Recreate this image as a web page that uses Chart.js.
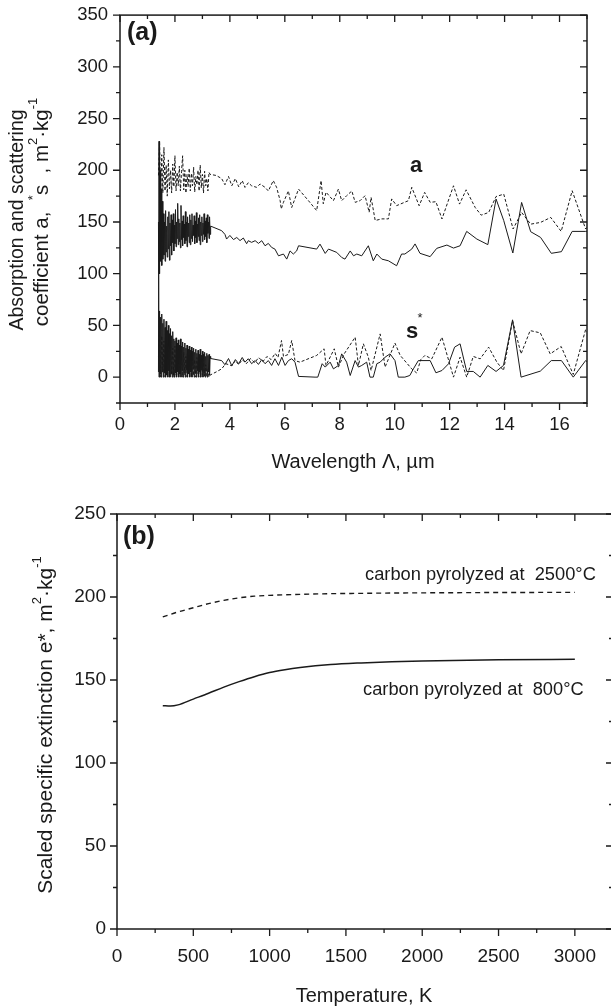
<!DOCTYPE html>
<html>
<head>
<meta charset="utf-8">
<script src="https://cdn.jsdelivr.net/npm/chart.js@4.4.1/dist/chart.umd.min.js"></script>
<style>
html, body { margin: 0; padding: 0; background: #fff; overflow: hidden; width: 611px; height: 1007px; }
#wrapA { position: absolute; left: 0; top: 0; width: 611px; height: 480px; }
#wrapB { position: absolute; left: 0; top: 480px; width: 630px; height: 527px; }
</style>
</head>
<body>
<div id="wrapA"><canvas id="chartA"></canvas></div>
<div id="wrapB"><canvas id="chartB"></canvas></div>
<script>
// ---- panel (a): wavelength, um ----
const lamDense = [1.40,1.42,1.44,1.46,1.48,1.50,1.52,1.54,1.56,1.58,1.60,1.62,1.64,1.66,1.68,1.70,
  1.72,1.74,1.76,1.78,1.80,1.82,1.84,1.86,1.88,1.90,1.92,1.94,1.96,1.98,2.00,2.02,
  2.04,2.06,2.08,2.10,2.12,2.14,2.16,2.18,2.20,2.22,2.24,2.26,2.28,2.30,2.32,2.34,
  2.36,2.38,2.40,2.42,2.44,2.46,2.48,2.50,2.52,2.54,2.56,2.58,2.60,2.62,2.64,2.66,
  2.68,2.70,2.72,2.74,2.76,2.78,2.80,2.82,2.84,2.86,2.88,2.90,2.92,2.94,2.96,2.98,
  3.00,3.02,3.04,3.06,3.08,3.10,3.12,3.14,3.16,3.18,3.20,3.22,3.24,3.26,3.28,3.30];
// the dashed curves are sampled at every second wavelength of the dense part
const lamDenseDash = lamDense.filter((v, i) => i % 2 === 0);

// absorption a (dashed / solid), noisy short-wave part
const aDashDense = [195,228,172,215,178,222,180,205,175,210,182,200,178,206,184,214,
  180,198,185,204,180,199,214,181,200,178,196,184,202,180,197,185,
  203,179,194,186,200,180,205,183,196,178,199,185,192,180,198,196];
const aSolidDense = [5,228,100,200,112,182,108,170,114,158,118,150,112,161,121,146,
  116,155,124,160,113,149,127,157,118,152,130,158,122,147,129,162,
  126,150,134,168,128,153,131,149,125,166,133,151,127,156,135,148,
  129,160,132,150,126,155,136,149,130,157,128,152,134,158,131,147,
  137,156,129,151,135,159,130,148,136,154,132,157,128,150,137,155,
  131,149,138,158,133,151,136,154,130,157,139,150,134,155,138,146];
// scattering s* (dashed / solid), noisy short-wave part
const sDashDense = [20,45,0,40,5,35,0,42,3,30,0,34,4,28,0,30,
  2,25,0,27,3,22,0,24,2,20,0,22,3,18,0,20,
  2,17,0,19,3,15,0,16,2,14,0,12,1,8,0,2];
const sSolidDense = [150,0,64,3,58,0,61,5,52,0,56,4,48,0,54,2,
  45,0,50,6,42,0,47,3,40,0,44,2,37,0,35,4,
  38,0,33,5,36,0,31,3,37,0,30,6,34,0,29,4,
  33,0,28,7,31,0,27,3,30,0,26,5,29,0,25,8,
  28,0,24,4,27,0,23,6,26,0,22,5,27,0,21,7,
  25,0,22,4,24,0,20,6,23,0,21,5,22,2,20,18];

const lamADashTail = [3.50,3.70,3.82,3.95,4.07,4.20,4.32,4.45,4.55,4.67,
  4.79,4.97,5.10,5.28,5.40,5.58,5.70,5.83,5.87,5.95,
  6.13,6.25,6.50,6.86,7.16,7.32,7.40,7.50,7.77,7.95,
  8.07,8.25,8.44,8.56,8.74,8.92,9.07,9.14,9.29,9.53,
  9.77,9.89,10.07,10.50,10.62,10.89,11.09,11.29,11.50,11.72,
  12.14,12.36,12.60,12.93,13.15,13.42,13.69,13.97,14.31,14.62,
  14.95,15.31,15.68,16.06,16.46,16.95,17.00];
const aDashTail = [195,192,186,194,185,192,184,190,183.4,188,
  185,183.5,186.7,183.5,180,190,183.5,170.6,162.6,169,
  180,164,181.8,170.6,161,190,167.6,178.8,170.6,181.8,
  170.6,175.4,180,169,170.6,175.4,159.4,173.8,151.4,153,
  153,172.3,165.8,170.6,183.5,165.7,178.6,169,169.6,152.9,
  185,167.3,181.1,164,156.6,159.2,174.6,176.9,143.2,159.2,
  147.9,149.6,154.4,140.9,180.2,143.2,145];

const lamASolidTail = [3.70,3.82,3.88,4.00,4.13,4.25,4.37,4.49,4.61,4.67,
  4.79,4.92,5.04,5.16,5.28,5.40,5.52,5.64,5.77,5.95,
  6.07,6.19,6.31,6.43,6.50,7.16,7.28,7.47,7.59,7.89,
  8.07,8.19,8.38,8.50,8.62,8.80,9.04,9.22,9.35,9.53,
  9.77,10.07,10.25,10.37,10.62,10.74,10.92,11.29,11.53,11.90,
  12.14,12.38,12.62,12.99,13.39,13.69,13.97,14.30,14.62,14.95,
  15.31,15.70,16.07,16.46,16.95,17.00];
const aSolidTail = [141.6,138,133.5,137,133,135,132,134.5,129,131.9,
  130.3,131.9,129.3,131.9,127,129.3,125.4,123.8,117.3,119,
  114.1,122,119,122,127,123.8,128.6,119.6,123.8,120.6,
  115.7,114.1,122,117.3,119,117.3,127,112.5,119,114.1,
  112.5,107.7,119,119,123.8,128.8,119.7,116.5,124.5,127.7,
  124.8,127,140.9,133.5,128.1,172.2,151.3,120,168.9,140.6,
  135.1,119.7,121.3,140.9,140.9,141];

const lamSDashTail = [3.50,3.70,3.85,4.07,4.20,4.32,4.45,4.60,4.75,4.90,
  5.05,5.20,5.35,5.50,5.65,5.75,5.88,5.95,6.13,6.25,
  6.37,6.55,7.16,7.43,7.50,7.80,7.95,8.16,8.56,8.68,
  8.86,9.04,9.14,9.47,9.65,10.01,10.20,10.62,10.80,10.95,
  11.10,11.35,11.72,12.14,12.38,12.62,12.86,13.11,13.42,13.72,
  13.96,14.29,14.60,14.93,15.30,15.66,16.06,16.50,16.95,17.00];
const sDashTail = [5,8,13,11,16,12,17,13,18,14,
  19,15,20,17,23,19,35.4,20,22,35.4,
  16,14.5,21,27.4,11.3,27.4,9.7,22.5,38.6,11.3,
  32.2,19.3,6.4,41.8,9.7,32.9,21,8,4,17,
  21,17.7,38.6,0,19.3,0,20,17.7,29,14.5,
  6.4,54.7,22.5,45,42.8,22.5,29.6,2.6,46,44];

const lamSSolidTail = [3.70,3.82,3.95,4.07,4.20,4.32,4.45,4.55,4.67,4.79,
  4.92,5.04,5.16,5.28,5.40,5.52,5.64,5.77,5.89,6.01,
  6.13,6.25,6.37,6.50,7.10,7.20,7.36,7.47,7.65,7.77,
  7.95,8.07,8.25,8.38,8.56,8.68,8.80,8.98,9.10,9.22,
  9.35,9.47,9.65,9.83,10.01,10.13,10.37,10.55,10.68,10.86,
  11.29,11.50,11.72,11.96,12.18,12.38,12.62,12.86,13.11,13.39,
  13.69,13.96,14.29,14.60,15.30,15.70,16.07,16.50,16.95,17.00];
const sSolidTail = [16,12,18,11,17,13,19,14.5,17.8,13,
  16,12.3,16.9,13,16,11.3,17.8,11.3,19.3,11.3,
  16,17.8,14.5,0.7,0,0,13,9.7,14.5,8,
  11.3,22.5,14.5,1.6,16,9.7,11.3,14.5,0,0,
  13,14.5,19.3,22.5,16,0,0,1.6,8,16,
  16,4.2,6.4,12.9,29,32.2,5.5,5.5,0,11.3,
  5.5,11.3,55.4,0,5.8,16,16,0,16,15];

// ---- panel (b): scaled specific extinction vs temperature ----
const temp800 = [300,350,400,500,600,700,800,900,1000,1100,1200,1400,1600,1800,2000,2500,3000];
const ext800 = [134.5,134.3,135,138.5,142,145.7,149,152,154.5,156.2,157.5,159.3,160.3,161,161.5,162.2,162.5];
const temp2500 = [300,400,500,600,700,800,900,1000,1200,1400,1600,1800,2000,2500,3000];
const ext2500 = [188,191,193.5,196,198,199.5,200.5,201,201.6,202,202.2,202.4,202.5,202.7,202.8];

const FONT = '"Liberation Sans", Arial, sans-serif';
const INK = '#1a1a1a';
Chart.defaults.font.family = FONT;
Chart.defaults.color = INK;

function pts(xs, ys) {
  return xs.map((x, i) => ({x: x, y: ys[i]}));
}

function line(xs, ys, dashed, width) {
  return {
    data: pts(xs, ys),
    borderColor: INK,
    borderWidth: width,
    borderDash: dashed ? dashed : [],
    pointRadius: 0,
    fill: false
  };
}

// text with superscripts, optionally rotated
function richText(ctx, parts, cx, cy, rot, size) {
  const supSize = Math.round(size * 0.62);
  let w = 0;
  parts.forEach(p => {
    ctx.font = (p[1] ? supSize : size) + 'px ' + FONT;
    w += ctx.measureText(p[0]).width;
  });
  ctx.save();
  ctx.translate(cx, cy);
  ctx.rotate(rot);
  ctx.fillStyle = INK;
  ctx.textBaseline = 'middle';
  ctx.textAlign = 'left';
  let x = -w / 2;
  parts.forEach(p => {
    ctx.font = (p[1] ? supSize : size) + 'px ' + FONT;
    ctx.fillText(p[0], x, p[1] ? -size * 0.42 : 0);
    x += ctx.measureText(p[0]).width;
  });
  ctx.restore();
}

function txt(ctx, s, x, y, font, align) {
  ctx.save();
  ctx.font = font;
  ctx.fillStyle = INK;
  ctx.textAlign = align || 'left';
  ctx.textBaseline = 'middle';
  ctx.fillText(s, x, y);
  ctx.restore();
}

// frame with ticks on all four sides (outer on left/bottom, inner on top/right)
const frameTicks = {
  id: 'frameTicks',
  afterDraw(chart, args, o) {
    const ctx = chart.ctx;
    const a = chart.chartArea;
    const xs = chart.scales.x, ys = chart.scales.y;
    ctx.save();
    ctx.strokeStyle = INK;
    ctx.lineWidth = 1.5;
    ctx.strokeRect(a.left, a.top, a.right - a.left, a.bottom - a.top);
    ctx.lineWidth = 1.3;
    ctx.beginPath();
    for (let v = xs.min; v <= xs.max + 1e-9; v += o.xMinor) {
      const px = xs.getPixelForValue(v);
      const len = Math.abs(v % o.xMajor) < 1e-9 ? 7 : 4;
      ctx.moveTo(px, a.bottom); ctx.lineTo(px, a.bottom + len);
      ctx.moveTo(px, a.top); ctx.lineTo(px, a.top + len);
    }
    for (let v = ys.min; v <= ys.max + 1e-9; v += o.yMinor) {
      const py = ys.getPixelForValue(v);
      const len = Math.abs(v % o.yMajor) < 1e-9 ? 7 : 4;
      ctx.moveTo(a.left, py); ctx.lineTo(a.left - len, py);
      ctx.moveTo(a.right, py); ctx.lineTo(a.right - len, py);
    }
    ctx.stroke();
    ctx.restore();
  }
};

const notesA = {
  id: 'notesA',
  afterDraw(chart) {
    const ctx = chart.ctx;
    txt(ctx, '(a)', 127, 33, 'bold 25px ' + FONT);
    txt(ctx, 'a', 416, 166, 'bold 22px ' + FONT, 'center');
    txt(ctx, 's', 412, 332, 'bold 22px ' + FONT, 'center');
    txt(ctx, '*', 420, 318, '13px ' + FONT, 'center');
    richText(ctx, [['Absorption and scattering', 0]], 18, 220, -Math.PI / 2, 19.5);
    richText(ctx, [['coefficient a,  ', 0], ['*', 1], ['s  , m', 0], ['2', 1], ['\u00b7kg', 0], ['-1', 1]],
      42, 212, -Math.PI / 2, 20.5);
    richText(ctx, [['Wavelength \u039b, \u00b5m', 0]], 353, 462, 0, 20);
  }
};

const notesB = {
  id: 'notesB',
  afterDraw(chart) {
    const ctx = chart.ctx;
    txt(ctx, '(b)', 123, 57, 'bold 25px ' + FONT);
    txt(ctx, 'carbon pyrolyzed at  2500\u00b0C', 365, 95, '18.3px ' + FONT);
    txt(ctx, 'carbon pyrolyzed at  800\u00b0C', 363, 210, '18.3px ' + FONT);
    richText(ctx, [['Scaled specific extinction e*, m', 0], ['2', 1], ['\u00b7kg', 0], ['-1', 1]],
      46, 245, -Math.PI / 2, 21);
    richText(ctx, [['Temperature, K', 0]], 364, 516, 0, 20);
  }
};

new Chart(document.getElementById('chartA'), {
  type: 'line',
  data: {
    datasets: [
      line(lamDenseDash.concat(lamADashTail), aDashDense.concat(aDashTail), [3, 2], 1),
      line(lamDense.concat(lamASolidTail), aSolidDense.concat(aSolidTail), null, 1),
      line(lamDenseDash.concat(lamSDashTail), sDashDense.concat(sDashTail), [3, 2], 1),
      line(lamDense.concat(lamSSolidTail), sSolidDense.concat(sSolidTail), null, 1)
    ]
  },
  options: {
    animation: false,
    responsive: true,
    maintainAspectRatio: false,
    layout: {padding: {top: 14, right: 24, left: 0, bottom: 0}},
    plugins: {legend: {display: false}, tooltip: {enabled: false}, frameTicks: {xMinor: 1, xMajor: 2, yMinor: 25, yMajor: 50}},
    elements: {line: {tension: 0}},
    scales: {
      x: {
        type: 'linear', min: 0, max: 17,
        grid: {display: false}, border: {display: false},
        ticks: {stepSize: 1, autoSkip: false, maxRotation: 0, padding: 3, font: {size: 18.5},
          callback: v => (v % 2 === 0 ? v : '')},
        afterFit: s => { s.height = 77; }
      },
      y: {
        min: -25, max: 350,
        grid: {display: false}, border: {display: false},
        ticks: {stepSize: 25, autoSkip: false, padding: 4, font: {size: 18.5},
          callback: v => (v >= 0 && v % 50 === 0 ? v : '')},
        afterFit: s => { s.width = 120; }
      }
    }
  },
  plugins: [frameTicks, notesA]
});

new Chart(document.getElementById('chartB'), {
  type: 'line',
  data: {
    datasets: [
      line(temp2500, ext2500, [5, 4], 1.4),
      line(temp800, ext800, null, 1.5)
    ]
  },
  options: {
    animation: false,
    responsive: true,
    maintainAspectRatio: false,
    layout: {padding: {top: 34, right: 17, left: 0, bottom: 0}},
    plugins: {legend: {display: false}, tooltip: {enabled: false}, frameTicks: {xMinor: 250, xMajor: 500, yMinor: 25, yMajor: 50}},
    elements: {line: {tension: 0.4, cubicInterpolationMode: 'monotone'}},
    scales: {
      x: {
        type: 'linear', min: 0, max: 3250,
        grid: {display: false}, border: {display: false},
        ticks: {stepSize: 250, autoSkip: false, maxRotation: 0, padding: 8, font: {size: 19},
          callback: v => (v % 500 === 0 ? v : '')},
        afterFit: s => { s.height = 78; }
      },
      y: {
        min: 0, max: 250,
        grid: {display: false}, border: {display: false},
        ticks: {stepSize: 25, autoSkip: false, padding: 3, font: {size: 19},
          callback: v => (v % 50 === 0 ? v : '')},
        afterFit: s => { s.width = 117; }
      }
    }
  },
  plugins: [frameTicks, notesB]
});
</script>
</body>
</html>
